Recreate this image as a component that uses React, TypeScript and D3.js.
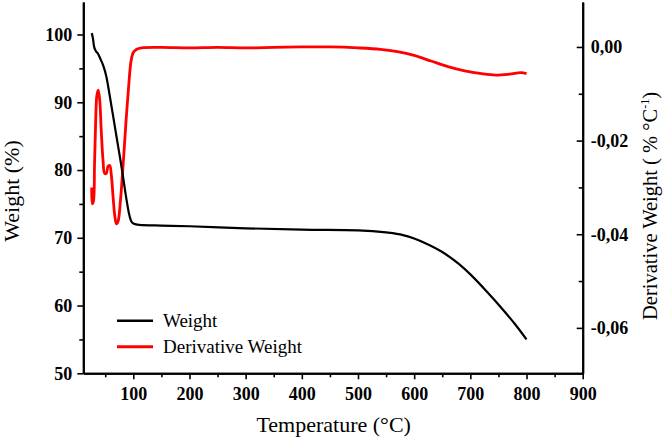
import { useEffect, useRef } from "react";
import * as d3 from "d3";

const weightTemp = [26, 28, 30, 33, 37, 42, 47, 52, 58, 63, 68, 73, 78, 83, 88, 92, 96, 100, 110, 150, 200, 300, 400, 500, 550, 580, 600, 620, 650, 680, 700, 730, 760, 780, 800];
const weightVals = [100.2, 99.5, 98.3, 97.6, 97.2, 96.3, 95.3, 93.8, 91.0, 88.5, 86.0, 83.5, 81.0, 78.3, 75.6, 73.7, 72.5, 72.1, 71.9, 71.8, 71.7, 71.4, 71.2, 71.1, 70.8, 70.4, 69.9, 69.2, 67.9, 66.1, 64.6, 62.0, 59.2, 57.2, 55.0];

const derivTemp = [26, 27, 29, 31, 33, 35, 37.5, 40, 43, 46, 49, 52, 55, 58, 61, 64, 67, 70, 73, 77, 82, 87, 92, 96, 100, 106, 115, 150, 200, 250, 300, 350, 400, 450, 500, 540, 570, 600, 630, 660, 690, 720, 745, 770, 790, 800];
const derivVals = [-0.03, -0.0335, -0.033, -0.025, -0.016, -0.0105, -0.0092, -0.011, -0.018, -0.024, -0.027, -0.027, -0.0255, -0.0253, -0.0275, -0.032, -0.036, -0.0378, -0.0372, -0.033, -0.025, -0.016, -0.008, -0.003, -0.0012, -0.0005, -0.0002, -0.0001, -0.0002, -0.0001, -0.0002, -0.0001, 0.0, 0.0, -0.0002, -0.0005, -0.001, -0.0018, -0.003, -0.0042, -0.0051, -0.0057, -0.006, -0.0058, -0.0055, -0.0057];

const xMajor = [100, 200, 300, 400, 500, 600, 700, 800, 900];
const xMinor = [50, 150, 250, 350, 450, 550, 650, 750, 850];
const yMajor = [50, 60, 70, 80, 90, 100];
const yMinor = [55, 65, 75, 85, 95];
const y2Major = [0, -0.02, -0.04, -0.06];
const y2Minor = [-0.01, -0.03, -0.05];

const W = 664;
const H = 441;
const left = 83.3;
const right = 582.7;
const top = 2;
const bottom = 373.3;
const serif = "'Liberation Serif', 'Times New Roman', serif";

export default function App() {
  const svgRef = useRef<SVGSVGElement>(null);

  useEffect(() => {
    const svg = d3.select(svgRef.current);
    svg.selectAll("*").remove();

    const x = d3.scaleLinear().domain([11, 900]).range([left, right]);
    const y = d3.scaleLinear().domain([50, 104.8]).range([bottom, top]);
    const y2 = d3.scaleLinear().domain([-0.0697, 0.0096]).range([bottom, top]);

    const fmt2 = (d: number) => d3.format(".2f")(d).replace(".", ",").replace("−", "-");

    const styleAxis = (g: d3.Selection<SVGGElement, unknown, null, undefined>) => {
      g.select(".domain").attr("stroke", "#000").attr("stroke-width", 2);
      g.selectAll(".tick line").attr("stroke", "#000").attr("stroke-width", 1.6);
      g.selectAll(".tick text")
        .attr("fill", "#000")
        .style("font-family", serif)
        .style("font-weight", "bold")
        .style("font-size", "18px");
    };

    // minor ticks first
    svg.append("g")
      .attr("transform", `translate(0,${bottom})`)
      .call(d3.axisBottom(x).tickValues(xMinor).tickSize(4).tickFormat(() => "").tickSizeOuter(0))
      .call(styleAxis);
    svg.append("g")
      .attr("transform", `translate(${left},0)`)
      .call(d3.axisLeft(y).tickValues(yMinor).tickSize(4).tickFormat(() => "").tickSizeOuter(0))
      .call(styleAxis);
    svg.append("g")
      .attr("transform", `translate(${right},0)`)
      .call(d3.axisRight(y2).tickValues(y2Minor).tickSize(-4).tickFormat(() => "").tickSizeOuter(0))
      .call(styleAxis);

    // major ticks
    svg.append("g")
      .attr("transform", `translate(0,${bottom})`)
      .call(d3.axisBottom(x).tickValues(xMajor).tickSize(6).tickPadding(8).tickSizeOuter(0))
      .call(styleAxis);
    svg.append("g")
      .attr("transform", `translate(${left},0)`)
      .call(d3.axisLeft(y).tickValues(yMajor).tickSize(6).tickPadding(5).tickSizeOuter(0))
      .call(styleAxis);
    svg.append("g")
      .attr("transform", `translate(${right},0)`)
      .call(d3.axisRight(y2).tickValues(y2Major).tickSize(-6).tickPadding(8).tickFormat((d) => fmt2(d as number)).tickSizeOuter(0))
      .call(styleAxis);

    // curves
    const weightLine = d3
      .line<number>()
      .x((_, i) => x(weightTemp[i]))
      .y((d) => y(d))
      .curve(d3.curveMonotoneX);
    const derivLine = d3
      .line<number>()
      .x((_, i) => x(derivTemp[i]))
      .y((d) => y2(d))
      .curve(d3.curveCatmullRom);

    svg.append("path")
      .datum(derivVals)
      .attr("d", derivLine)
      .attr("fill", "none")
      .attr("stroke", "#ff0000")
      .attr("stroke-width", 2.8);
    svg.append("path")
      .datum(weightVals)
      .attr("d", weightLine)
      .attr("fill", "none")
      .attr("stroke", "#000")
      .attr("stroke-width", 2.2);

    // legend
    const legend = [
      { label: "Weight", color: "#000" },
      { label: "Derivative Weight", color: "#ff0000" },
    ];
    legend.forEach((l, i) => {
      const ly = 320.7 + i * 26;
      svg.append("line")
        .attr("x1", 117).attr("x2", 153)
        .attr("y1", ly).attr("y2", ly)
        .attr("stroke", l.color)
        .attr("stroke-width", i === 0 ? 2.4 : 3);
      svg.append("text")
        .attr("x", 163).attr("y", ly + 6)
        .style("font-family", serif)
        .style("font-size", "19px")
        .text(l.label);
    });

    // axis titles
    svg.append("text")
      .attr("x", 333.7)
      .attr("y", 432)
      .attr("text-anchor", "middle")
      .style("font-family", serif)
      .style("font-size", "22px")
      .text("Temperature (°C)");

    svg.append("text")
      .attr("transform", "rotate(-90)")
      .attr("x", -191)
      .attr("y", 19)
      .attr("text-anchor", "middle")
      .style("font-family", serif)
      .style("font-size", "22px")
      .text("Weight (%)");

    const t2 = svg.append("text")
      .attr("transform", "rotate(-90)")
      .attr("x", -206)
      .attr("y", 657)
      .attr("text-anchor", "middle")
      .style("font-family", serif)
      .style("font-size", "20.5px");
    t2.append("tspan").text("Derivative Weight ( % °C");
    t2.append("tspan").attr("dy", -8).style("font-size", "12px").text("-1");
    t2.append("tspan").attr("dy", 8).text(")");
  }, []);

  return (
    <svg
      ref={svgRef}
      width={W}
      height={H}
      viewBox={`0 0 ${W} ${H}`}
      style={{ position: "absolute", left: 0, top: 0, background: "#fff" }}
    />
  );
}
